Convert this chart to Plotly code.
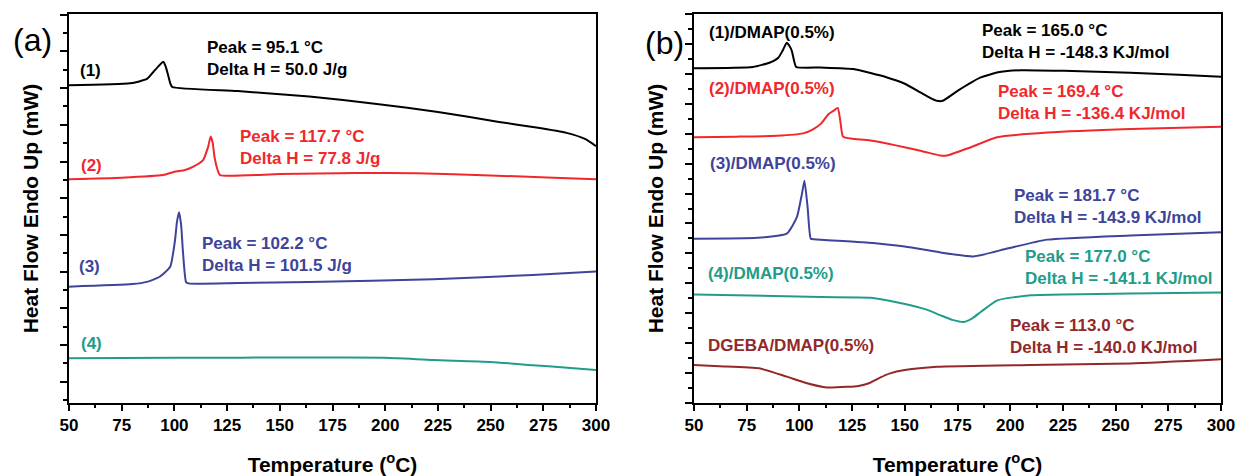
import plotly.graph_objects as go

# ---------------- data: panel (a) ----------------
a1_T = [50, 79, 87, 90, 92.5, 94.7, 95.8, 97, 98, 99, 130, 164, 196, 225, 254, 270, 286, 295, 300]
a1_Y = [8.08, 8.13, 8.25, 8.44, 8.60, 8.72, 8.60, 8.36, 8.14, 8.03, 7.92, 7.77, 7.57, 7.35, 7.08, 6.94, 6.78, 6.61, 6.42]

a2_T = [50, 75, 94.6, 100, 105, 109, 113.6, 116, 117.2, 118.2, 119, 120.5, 121.6, 150, 186.6, 215, 250, 280, 300]
a2_Y = [5.52, 5.56, 5.63, 5.72, 5.77, 5.86, 6.04, 6.40, 6.68, 6.50, 6.13, 5.77, 5.63, 5.66, 5.69, 5.68, 5.62, 5.56, 5.52]

a3_T = [50, 80, 87, 93, 98, 100.3, 101.2, 102.2, 103.2, 104, 105.5, 106.6, 130, 164, 222.8, 270, 300]
a3_Y = [2.59, 2.66, 2.72, 2.86, 3.13, 3.86, 4.35, 4.62, 4.27, 3.59, 2.72, 2.68, 2.69, 2.72, 2.79, 2.91, 3.00]

a4_T = [50, 100, 164, 200, 222.8, 250, 270, 285, 300]
a4_Y = [0.64, 0.65, 0.66, 0.65, 0.59, 0.54, 0.45, 0.39, 0.32]

# ---------------- data: panel (b) ----------------
b1_T = [50, 78, 86, 90, 92, 94, 95.3, 96.4, 97.5, 98.5, 110, 125.6, 141.6, 150, 157.4, 162, 165.3, 168, 175, 186, 195, 205, 225.5, 257, 280, 300]
b1_Y = [11.19, 11.23, 11.38, 11.54, 11.77, 12.04, 11.93, 11.77, 11.43, 11.23, 11.21, 11.16, 10.88, 10.67, 10.38, 10.20, 10.10, 10.10, 10.43, 10.88, 11.06, 11.12, 11.10, 11.04, 10.97, 10.90]

b2_T = [50, 70, 89.3, 101.8, 106, 110, 113.9, 116.3, 118.2, 119.4, 120.7, 125, 133.7, 157.4, 166.9, 170, 181, 193.8, 217.6, 257, 300]
b2_Y = [8.88, 8.90, 8.93, 9.01, 9.13, 9.32, 9.66, 9.77, 9.86, 9.43, 8.90, 8.83, 8.77, 8.43, 8.27, 8.27, 8.54, 8.88, 9.04, 9.16, 9.23]

b3_T = [50, 80, 94, 98.8, 101.2, 102.4, 103.9, 105.4, 107, 130, 150, 167, 182.6, 198.6, 217.6, 257, 300]
b3_Y = [5.49, 5.52, 5.66, 6.21, 6.99, 7.43, 6.54, 5.49, 5.47, 5.37, 5.23, 5.03, 4.90, 5.16, 5.46, 5.60, 5.71]

b4_T = [50, 110, 133.7, 149.5, 160, 167, 173, 178, 182, 186, 193.9, 209.7, 257, 300]
b4_Y = [3.63, 3.54, 3.52, 3.32, 3.13, 2.93, 2.77, 2.71, 2.83, 3.04, 3.43, 3.60, 3.66, 3.69]

b5_T = [50, 62, 81, 94, 103.6, 113, 122.6, 128, 133, 138, 143, 150, 165.3, 209.7, 257, 300]
b5_Y = [1.27, 1.23, 1.16, 0.88, 0.66, 0.52, 0.54, 0.57, 0.66, 0.84, 0.99, 1.10, 1.21, 1.27, 1.32, 1.46]

x_ticks = [50, 75, 100, 125, 150, 175, 200, 225, 250, 275, 300]

BLACK = "#000000"
RED = "#f0282d"
BLUE = "#3d4499"
TEAL = "#229c8a"
BROWN = "#93282a"

FONT = "Liberation Sans, Arial, sans-serif"

fig = go.Figure()

def add(T, Y, color, xa, ya):
    fig.add_trace(go.Scatter(x=T, y=Y, mode="lines", xaxis=xa, yaxis=ya,
                             line=dict(color=color, width=2, shape="spline", smoothing=0.5),
                             showlegend=False, hoverinfo="skip"))

add(a1_T, a1_Y, BLACK, "x", "y")
add(a2_T, a2_Y, RED, "x", "y")
add(a3_T, a3_Y, BLUE, "x", "y")
add(a4_T, a4_Y, TEAL, "x", "y")
add(b1_T, b1_Y, BLACK, "x2", "y2")
add(b2_T, b2_Y, RED, "x2", "y2")
add(b3_T, b3_Y, BLUE, "x2", "y2")
add(b4_T, b4_Y, TEAL, "x2", "y2")
add(b5_T, b5_Y, BROWN, "x2", "y2")

W, H = 1237, 476
ML, MR, MT, MB = 69, 16, 14, 73
PW = W - ML - MR
dom_a = [0, (596 - ML) / PW]
dom_b = [(694 - ML) / PW, 1.0]

def xaxis(domain, anchor):
    return dict(domain=domain, anchor=anchor, range=[50, 300], tickmode="array", tickvals=x_ticks,
                ticktext=[str(v) for v in x_ticks], automargin=False,
                ticks="outside", ticklen=6, tickwidth=2, tickcolor="black",
                showline=True, linewidth=2, linecolor="black", mirror=True,
                showgrid=False, zeroline=False,
                tickfont=dict(family=FONT, size=17, color="black", weight="bold"),
                minor=dict(ticks="outside", ticklen=3, tickwidth=2, tickcolor="black", dtick=12.5, tick0=50, showgrid=False),
                title=dict(text="Temperature (<sup>o</sup>C)", standoff=23,
                           font=dict(family=FONT, size=21, color="black", weight="bold")))

def yaxis(anchor, rng):
    return dict(domain=[0, 1], anchor=anchor, range=rng, tick0=0, dtick=1, automargin=False,
                ticks="outside", ticklen=7, tickwidth=2, tickcolor="black", showticklabels=False,
                showline=True, linewidth=2, linecolor="black", mirror=True,
                showgrid=False, zeroline=False,
                minor=dict(ticks="outside", ticklen=4, tickwidth=2, tickcolor="black", dtick=0.5, tick0=0, showgrid=False),
                title=dict(text="Heat Flow Endo Up (mW)", standoff=16,
                           font=dict(family=FONT, size=21, color="black", weight="bold")))

fig.update_layout(
    width=W, height=H, margin=dict(l=ML, r=MR, t=MT, b=MB, autoexpand=False),
    paper_bgcolor="white", plot_bgcolor="white",
    xaxis=xaxis(dom_a, "y"), yaxis=yaxis("x", [-0.58, 10.02]),
    xaxis2=xaxis(dom_b, "y2"), yaxis2=yaxis("x2", [0, 13]),
)

def note(text, x, y, color, xa, ya, size=17, anchor="left", bold=True):
    fig.add_annotation(text=text, x=x, y=y, xref=xa, yref=ya, showarrow=False,
                       xanchor=anchor, yanchor="middle", align="left",
                       font=dict(family=FONT, size=size, color=color, weight="bold" if bold else "normal"))

# panel (a) labels
note("(1)", 60.4, 8.47, BLACK, "x", "y", anchor="center")
note("(2)", 60.9, 5.90, RED, "x", "y", anchor="center")
note("(3)", 59.5, 3.15, BLUE, "x", "y", anchor="center")
note("(4)", 60.9, 1.05, TEAL, "x", "y", anchor="center")
note("Peak = 95.1 °C<br>Delta H = 50.0 J/g", 114.5, 8.82, BLACK, "x", "y")
note("Peak = 117.7 °C<br>Delta H = 77.8 J/g", 130.2, 6.37, RED, "x", "y")
note("Peak = 102.2 °C<br>Delta H = 101.5 J/g", 112.1, 3.47, BLUE, "x", "y")

# panel (b) labels
note("(1)/DMAP(0.5%)", 56.2, 12.37, BLACK, "x2", "y2")
note("(2)/DMAP(0.5%)", 56.2, 10.52, RED, "x2", "y2")
note("(3)/DMAP(0.5%)", 56.6, 7.99, BLUE, "x2", "y2")
note("(4)/DMAP(0.5%)", 55.7, 4.32, TEAL, "x2", "y2")
note("DGEBA/DMAP(0.5%)", 55.7, 1.93, BROWN, "x2", "y2")
note("Peak = 165.0 °C<br>Delta H = -148.3 KJ/mol", 185.9, 12.09, BLACK, "x2", "y2")
note("Peak = 169.4 °C<br>Delta H = -136.4 KJ/mol", 193.1, 10.04, RED, "x2", "y2")
note("Peak = 181.7 °C<br>Delta H = -143.9 KJ/mol", 201.0, 6.58, BLUE, "x2", "y2")
note("Peak = 177.0 °C<br>Delta H = -141.1 KJ/mol", 206.2, 4.54, TEAL, "x2", "y2")
note("Peak = 113.0 °C<br>Delta H = -140.0 KJ/mol", 198.8, 2.21, BROWN, "x2", "y2")

# panel letters
fig.add_annotation(text="(a)", x=(32.5 - ML) / PW, y=1 - (40 - MT) / (H - MT - MB), xref="paper", yref="paper",
                   showarrow=False, xanchor="center", yanchor="middle", font=dict(family=FONT, size=32, color="black"))
fig.add_annotation(text="(b)", x=(664 - ML) / PW, y=1 - (43 - MT) / (H - MT - MB), xref="paper", yref="paper",
                   showarrow=False, xanchor="center", yanchor="middle", font=dict(family=FONT, size=32, color="black"))

fig.write_html("out.html")
